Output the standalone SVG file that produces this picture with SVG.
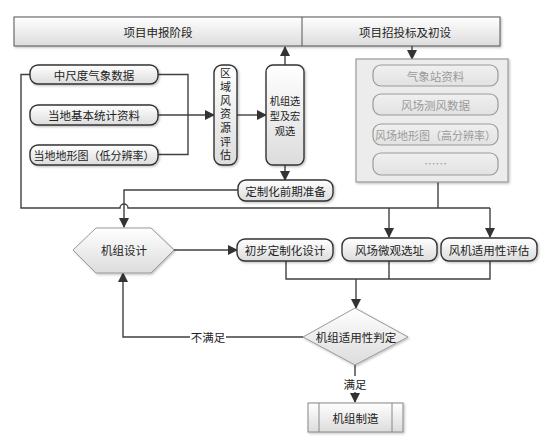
<svg xmlns="http://www.w3.org/2000/svg" width="550" height="443" viewBox="0 0 550 443">
<defs>
<linearGradient id="g" x1="0" y1="0" x2="0" y2="1">
<stop offset="0" stop-color="#ffffff"/><stop offset="1" stop-color="#dcdcdc"/>
</linearGradient>
<linearGradient id="gp" x1="0" y1="0" x2="0" y2="1">
<stop offset="0" stop-color="#f0f0f0"/><stop offset="1" stop-color="#e2e2e2"/>
</linearGradient>
<filter id="sh" x="-10%" y="-10%" width="130%" height="140%">
<feDropShadow dx="1.2" dy="1.2" stdDeviation="0.8" flood-color="#000" flood-opacity="0.25"/>
</filter>
<marker id="ar" viewBox="0 0 10 10" refX="9" refY="5" markerWidth="10" markerHeight="10" markerUnits="userSpaceOnUse" orient="auto">
<path d="M0,0 L10,5 L0,10 z" fill="#333"/>
</marker>
</defs>
<style>
text{font-family:"Noto Sans CJK SC","Noto Sans",sans-serif;font-size:11.5px;fill:#222;text-anchor:middle;dominant-baseline:central}
.v{font-size:10.2px}
.vert{font-size:11px;writing-mode:vertical-rl;letter-spacing:2.7px}
.box{fill:url(#g);stroke:#333;stroke-width:1.4;filter:url(#sh)}
.lbox{fill:url(#gp);stroke:#9a9a9a;stroke-width:1.2}
.lt{fill:#9a9a9a}
.ln{fill:none;stroke:#404040;stroke-width:1.4}
.arr{marker-end:url(#ar)}
</style>
<rect width="550" height="443" fill="#fff"/>

<g id="header">
<rect x="14" y="17" width="486" height="29" class="box" style="stroke:#555;stroke-width:1"/>
<line x1="302" y1="17" x2="302" y2="46" stroke="#555" stroke-width="1"/>
<text x="158" y="32">项目申报阶段</text>
<text x="405" y="32">项目招投标及初设</text>
</g>

<g id="connectors">
<path class="ln" d="M158,74.5 H188 V154.5 H158"/>
<path class="ln arr" d="M158,115 H214"/>
<path class="ln arr" d="M237,115 H266"/>
<path class="ln arr" d="M285,65 V47"/>
<path class="ln arr" d="M412,46 V59"/>
<path class="ln arr" d="M285,165 V180"/>
<path class="ln" d="M30,74.5 H21 V208 H120 A4,4 0 0 1 128,208 H490"/>
<path class="ln" d="M438,182 V208"/>
<path class="ln arr" d="M238,190 H124 V227"/>
<path class="ln arr" d="M389,208 V237"/>
<path class="ln arr" d="M490,208 V237"/>
<path class="ln arr" d="M174,250 H237"/>
<path class="ln" d="M286,261 V279 H490 V261 M389,261 V279"/>
<path class="ln arr" d="M356,279 V308"/>
<path class="ln arr" d="M303,337 H123 V273"/>
<path class="ln arr" d="M355,365 V402"/>
<rect x="190" y="329" width="36" height="16" fill="#fff"/>
<text x="208" y="337">不满足</text>
<rect x="342" y="376" width="26" height="16" fill="#fff"/>
<text x="355" y="384">满足</text>
</g>

<g id="n1"><rect x="30" y="65" width="128" height="19" rx="8" class="box"/><text x="94" y="74.5">中尺度气象数据</text></g>
<g id="n2"><rect x="30" y="105" width="128" height="20" rx="8" class="box"/><text x="94" y="115">当地基本统计资料</text></g>
<g id="n3"><rect x="30" y="145" width="128" height="20" rx="8" class="box"/><text x="94" y="155" style="font-size:11px">当地地形图（低分辨率）</text></g>

<g id="n4"><rect x="214" y="65" width="23" height="100" rx="8" class="box"/>
<text class="vert" x="225.5" y="115.5">区域风资源评估</text></g>

<g id="n5"><rect x="266" y="65" width="38" height="100" rx="7" class="box"/>
<text class="v" x="285" y="100">机组选<tspan x="285" dy="15">型及宏</tspan><tspan x="285" dy="15">观选</tspan></text></g>

<g id="n6"><rect x="238" y="180" width="95" height="21" rx="8" class="box"/><text x="285.5" y="190.5">定制化前期准备</text></g>

<g id="panel"><rect x="356" y="59" width="152" height="123" fill="#ececec" stroke="#9a9a9a" stroke-width="1.2" filter="url(#sh)"/>
<rect x="373" y="65" width="125" height="21" rx="8" class="lbox"/><text x="435.5" y="75.5" class="lt">气象站资料</text>
<rect x="373" y="94" width="125" height="21" rx="8" class="lbox"/><text x="435.5" y="104.5" class="lt">风场测风数据</text>
<rect x="373" y="124" width="125" height="21" rx="8" class="lbox"/><text x="435.5" y="134.5" class="lt" style="font-size:11px">风场地形图（高分辨率）</text>
<rect x="373" y="153" width="125" height="22" rx="8" class="lbox"/><text x="435.5" y="163" class="lt">……</text></g>

<g id="n7"><polygon points="73,250 96,228 151,228 174,250 151,273 96,273" class="box" style="stroke:#999;stroke-width:1"/><text x="124" y="250">机组设计</text></g>

<g id="n8"><rect x="237" y="239" width="96" height="22" rx="8" class="box"/><text x="285" y="250">初步定制化设计</text></g>
<g id="n9"><rect x="342" y="238" width="95" height="23" rx="8" class="box"/><text x="389.5" y="249.5">风场微观选址</text></g>
<g id="n10"><rect x="441" y="238" width="96" height="23" rx="8" class="box"/><text x="489" y="249.5">风机适用性评估</text></g>

<g id="n11"><polygon points="355,308 408,337 355,365 303,337" class="box" style="stroke:#999;stroke-width:1"/><text x="356" y="337">机组适用性判定</text></g>

<g id="n12"><rect x="308" y="403" width="95" height="29" class="box" style="stroke:#888;stroke-width:1"/>
<line x1="319" y1="403" x2="319" y2="432" stroke="#888"/><line x1="392" y1="403" x2="392" y2="432" stroke="#888"/>
<text x="355.5" y="417.5">机组制造</text></g>
</svg>
